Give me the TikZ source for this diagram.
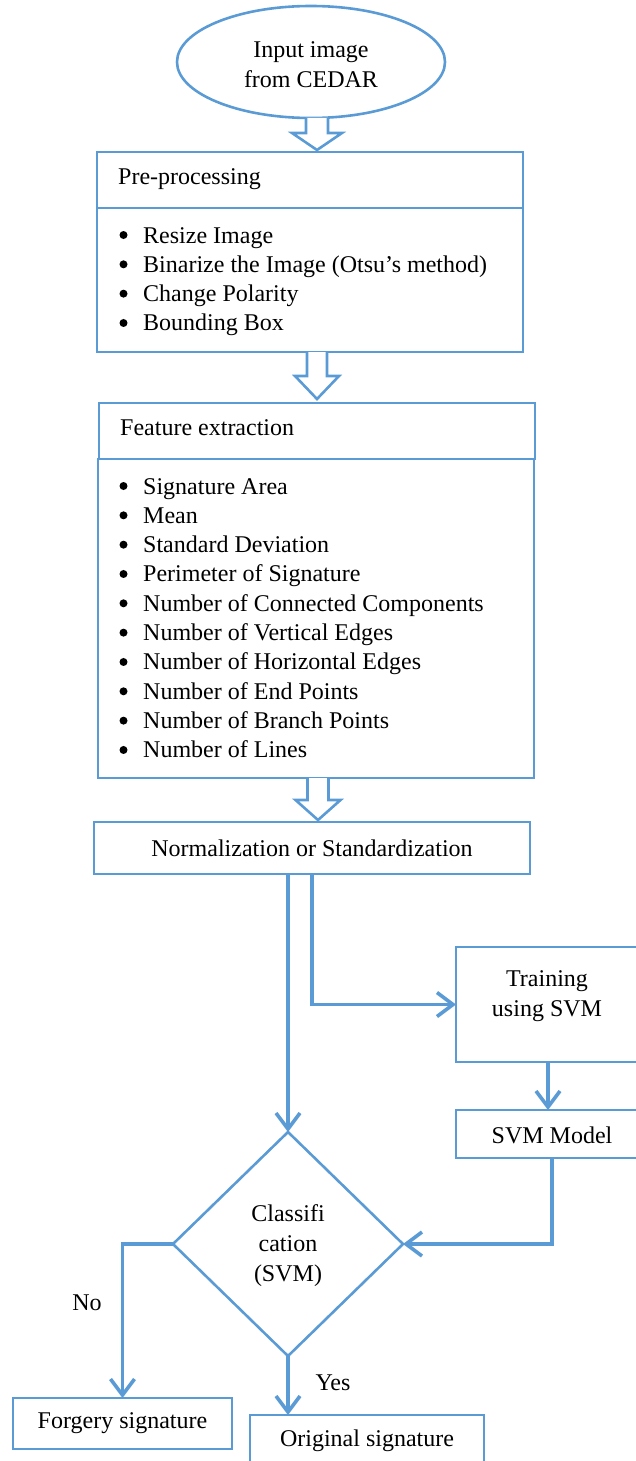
\documentclass[tikz,border=0pt]{standalone}
\usepackage{fontspec}
\setmainfont{Liberation Serif}
\usetikzlibrary{shapes.geometric,arrows.meta,calc}
\definecolor{ob}{HTML}{5B9BD5}
\newcommand{\hollowarr}[6]{%
  \draw[hollow] (#1-#2,#4) -- (#1-#2,#5) -- (#1-#3,#5) -- (#1,#6) -- (#1+#3,#5) -- (#1+#2,#5) -- (#1+#2,#4);}
\begin{document}
\begin{tikzpicture}[x=1pt,y=-1pt,
  box/.style={draw=ob,line width=2.6pt,inner sep=0pt,outer sep=0pt},
  lbl/.style={font=\fontsize{24}{30}\selectfont},
  conn/.style={draw=ob,line width=3.6pt,-{Straight Barb[length=16pt,width=24pt]}},
  hollow/.style={draw=ob,line width=2.6pt,fill=white,line join=miter},
  item/.style={lbl,anchor=base west,inner sep=0pt}
]
\useasboundingbox (0,0) rectangle (636,1461);

% input ellipse
\node[box,ellipse,minimum width=268pt,minimum height=112pt] (in) at (311,62) {};
\node[lbl,align=center] (int) at (311,65) {Input image\\from CEDAR};

% pre-processing
\node[box,minimum width=426pt,minimum height=56pt] (pre) at (310,180) {};
\node[box,minimum width=426pt,minimum height=144pt] (preb) at (310,280) {};
\node[item] (pret) at (118,184) {Pre-processing};
\foreach \t [count=\i] in {Resize Image,Binarize the Image (Otsu’s method),Change Polarity,Bounding Box}{
  \node[item] (pp\i) at (143,{243+29.33*(\i-1)}) {\t};
  \fill (123.5,{235+29.33*(\i-1)}) circle (4pt);}

% feature extraction
\node[box,minimum width=436pt,minimum height=56pt] (fe) at (317,431) {};
\node[box,minimum width=436pt,minimum height=319pt] (feb) at (316,618.5) {};
\node[item] (fet) at (120,435) {Feature extraction};
\foreach \t [count=\i] in {Signature Area,Mean,Standard Deviation,Perimeter of Signature,Number of Connected Components,Number of Vertical Edges,Number of Horizontal Edges,Number of End Points,Number of Branch Points,Number of Lines}{
  \node[item] (f\i) at (143,{494+29.33*(\i-1)}) {\t};
  \fill (123.5,{486+29.33*(\i-1)}) circle (4pt);}

% normalization
\node[box,lbl,minimum width=436pt,minimum height=52pt] (norm) at (312,848) {Normalization or Standardization};

% training and model
\node[box,minimum width=184pt,minimum height=115pt] (train) at (548,1004.5) {};
\node[lbl,align=center] (traint) at (547,996) {Training\\using SVM};
\node[box,minimum width=184pt,minimum height=48pt] (svm) at (548,1134) {};
\node[lbl] (svmt) at (552,1135) {SVM Model};

% classification diamond
\node[box,diamond,minimum width=230pt,minimum height=224pt] (dia) at (288,1244) {};
\node[lbl,align=center] (diat) at (288,1246) {Classifi\\cation\\(SVM)};

% outputs
\node[box,lbl,minimum width=219pt,minimum height=51pt] (forg) at (122.5,1423.5) {Forgery signature};
\node[box,minimum width=234pt,minimum height=53pt] (orig) at (367,1441.5) {};
\node[lbl] (origt) at (367,1441) {Original signature};

% hollow block arrows
\hollowarr{317}{11}{25}{118}{133}{150}
\hollowarr{317}{10}{22}{352}{376}{399}
\hollowarr{318}{10.5}{22.5}{778}{800}{820}

% connectors
\draw[conn] (dia.north |- norm.south) -- (dia.north);
\draw[conn] (norm.south) -- (norm.south |- train.west) -- (train.west);
\draw[conn] (train.south) -- (svm.north);
\draw[conn] ($(svm.south)+(4,0)$) |- (dia.east);
\draw[conn] (dia.west) -| (forg.north);
\draw[conn] (dia.south) -- (dia.south |- orig.north);

% labels
\node[lbl] (no) at (87,1303) {No};
\node[lbl] (yes) at (333,1383) {Yes};
\end{tikzpicture}
\end{document}
